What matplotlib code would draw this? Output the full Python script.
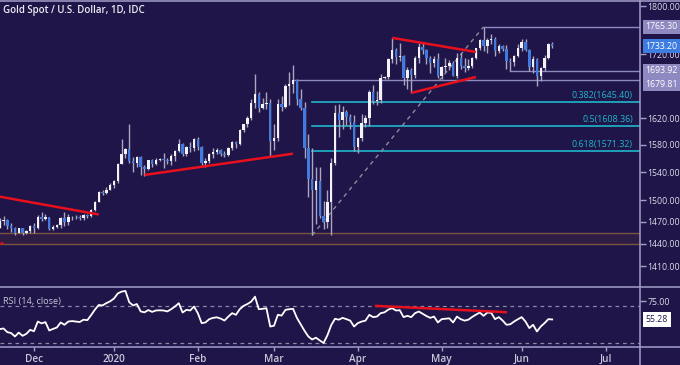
import matplotlib.pyplot as plt
import matplotlib.transforms as mtransforms
import numpy as np
import pandas as pd
from matplotlib import font_manager
from matplotlib.lines import Line2D
from matplotlib.ticker import FixedLocator, NullLocator

plt.rcParams['font.family'] = ['Open Sans', 'DejaVu Sans']

installed = {f.name for f in font_manager.fontManager.ttflist}
if 'Liberation Sans Narrow' in installed:
    AXIS_FONT, AXIS_SIZE, FIB_SIZE = ['Liberation Sans Narrow', 'DejaVu Sans'], 7.8, 8.2
else:
    AXIS_FONT, AXIS_SIZE, FIB_SIZE = ['Open Sans', 'DejaVu Sans'], 6.3, 6.4

BG = '#1f1548'
FRAME = '#a29fc8'
TXT = '#dcdcea'
UP = '#f2f2f7'
DOWN = '#3f7be0'
WICK = '#a9a7c2'
RED = '#e8101c'
CYAN = '#1fb8cc'
LEVEL = '#8e89c0'

# daily candles, 19 Nov 2019 - 11 Jun 2020 (no bars on 25 Dec / 1 Jan)
opens = [1462, 1471, 1472, 1464, 1462, 1455, 1461, 1454, 1457, 1464,
         1461, 1477, 1474, 1476, 1460, 1463, 1465, 1475, 1470, 1476,
         1477, 1476, 1475, 1479, 1478, 1486, 1498, 1511, 1510, 1515,
         1521, 1528, 1552, 1566, 1574, 1556, 1553, 1562, 1548, 1545,
         1557, 1552, 1558, 1559, 1558, 1556, 1563, 1571, 1582, 1567,
         1577, 1575, 1589, 1577, 1553, 1556, 1566, 1570, 1573, 1567,
         1565, 1576, 1584, 1581, 1602, 1611, 1620, 1643, 1658, 1635,
         1642, 1643, 1585, 1590, 1642, 1637, 1669, 1673, 1679.81, 1649,
         1635, 1576, 1530, 1514, 1527, 1478, 1470, 1498, 1553, 1628,
         1617, 1630, 1622, 1614, 1577, 1590, 1613, 1620, 1661, 1647,
         1648, 1683, 1684, 1712, 1727, 1716, 1718, 1683, 1695, 1687,
         1714, 1732, 1727, 1714, 1707, 1713, 1686, 1700, 1702, 1706,
         1686, 1715, 1702, 1698, 1702, 1715, 1730, 1743, 1733, 1744,
         1745, 1725, 1734, 1728, 1709, 1708, 1717, 1730, 1740, 1727,
         1700, 1713, 1685, 1698, 1715, 1737]
highs = [1475, 1478, 1474, 1468, 1463, 1462, 1462, 1459, 1466, 1468,
         1479, 1483, 1481, 1477, 1465, 1467, 1476, 1484, 1481, 1478,
         1479, 1479, 1480, 1481, 1487, 1499, 1513, 1514, 1519, 1524,
         1529, 1553, 1588, 1576, 1611, 1562, 1563, 1564, 1551, 1558,
         1559, 1561, 1560, 1568, 1560, 1566, 1573, 1588, 1583, 1578,
         1584, 1590, 1592, 1578, 1561, 1568, 1575, 1576, 1574, 1571,
         1577, 1585, 1585, 1604, 1612, 1624, 1650, 1689, 1660, 1651,
         1660, 1649, 1611, 1649, 1654, 1673, 1692, 1703, 1681, 1665,
         1645, 1596, 1575, 1547, 1547, 1499, 1515, 1560, 1641, 1642,
         1638, 1633, 1626, 1625, 1592, 1626, 1625, 1664, 1671, 1662,
         1689, 1686, 1715, 1747, 1731, 1738, 1719, 1700, 1698, 1717,
         1739, 1738, 1728, 1717, 1718, 1722, 1702, 1715, 1711, 1710,
         1722, 1722, 1715, 1712, 1716, 1731, 1745, 1765.3, 1746, 1754,
         1748, 1737, 1735, 1735, 1715, 1719, 1737, 1745, 1745, 1728,
         1718, 1714, 1700, 1719, 1739, 1741]
lows = [1461, 1466, 1460, 1456, 1452, 1454, 1452, 1453, 1455, 1454,
        1460, 1471, 1472, 1458, 1459, 1461, 1462, 1464, 1466, 1473,
        1474, 1473, 1473, 1475, 1477, 1485, 1498, 1507, 1509, 1514,
        1517, 1525, 1552, 1561, 1553, 1540, 1548, 1536, 1535, 1543,
        1548, 1550, 1556, 1546, 1552, 1551, 1556, 1569, 1563, 1564,
        1570, 1571, 1573, 1550, 1547, 1554, 1561, 1566, 1563, 1562,
        1564, 1572, 1576, 1580, 1599, 1606, 1618, 1636, 1630, 1634,
        1634, 1563, 1572, 1585, 1631, 1636, 1641, 1659, 1640, 1633,
        1561, 1504, 1451.4, 1467, 1475, 1460, 1462, 1452, 1550, 1591,
        1603, 1610, 1603, 1571, 1568, 1586, 1606, 1608, 1642, 1640,
        1644, 1680, 1681, 1706, 1705, 1709, 1672, 1665, 1659, 1682,
        1707, 1721, 1705, 1690, 1700, 1683, 1681, 1692, 1695, 1685,
        1683, 1697, 1692, 1695, 1698, 1712, 1727, 1726, 1723, 1737,
        1718, 1722, 1725, 1697, 1693.92, 1702, 1716, 1725, 1726, 1693,
        1691, 1670, 1677, 1694, 1712, 1730]
closes = [1471, 1472, 1464, 1462, 1455, 1461, 1454, 1457, 1464, 1461,
          1477, 1474, 1476, 1460, 1463, 1465, 1475, 1470, 1476, 1477,
          1476, 1475, 1479, 1478, 1486, 1498, 1511, 1510, 1515, 1521,
          1528, 1552, 1566, 1574, 1556, 1553, 1562, 1548, 1545, 1557,
          1552, 1558, 1559, 1558, 1556, 1563, 1571, 1582, 1567, 1577,
          1575, 1589, 1577, 1553, 1556, 1566, 1570, 1573, 1567, 1565,
          1576, 1584, 1581, 1602, 1611, 1620, 1643, 1658, 1635, 1642,
          1643, 1585, 1590, 1642, 1637, 1669, 1673, 1679.81, 1649, 1635,
          1576, 1530, 1514, 1527, 1478, 1470, 1498, 1553, 1628, 1617,
          1630, 1622, 1614, 1577, 1590, 1613, 1620, 1661, 1647, 1648,
          1683, 1684, 1712, 1727, 1716, 1718, 1683, 1695, 1687, 1714,
          1732, 1727, 1714, 1707, 1713, 1686, 1700, 1702, 1706, 1686,
          1715, 1702, 1698, 1702, 1715, 1730, 1743, 1733, 1744, 1745,
          1725, 1734, 1728, 1709, 1708, 1717, 1730, 1740, 1727, 1700,
          1713, 1685, 1698, 1715, 1737, 1733.2]
rsi = [44.8, 45.5, 41.5, 40.5, 36.8, 41, 37.5, 39.7, 44, 42.5,
       53, 51, 52.4, 43.3, 45, 46.5, 52, 49.5, 53, 53.5,
       53, 52.5, 55, 54.5, 60, 66, 71, 70.5, 73, 75,
       78, 83.5, 85.5, 86.2, 74, 70.5, 72, 64, 63, 65.5,
       63.5, 65, 65.2, 65, 64, 66.4, 69.3, 72.9, 62.8, 65.7,
       65, 69.3, 62.1, 51.3, 52, 55.6, 57, 57.6, 56.2, 54.1,
       58.4, 62.1, 60.3, 66.4, 70, 72, 74.6, 80, 66.4, 66.8,
       67.5, 47.6, 48.5, 60.3, 59.5, 65.7, 66.4, 66.8, 57, 50,
       43, 36.8, 33.5, 35.5, 32.5, 29.7, 38, 49, 56, 55,
       57, 55.6, 54, 47.6, 51.3, 53, 54, 60.3, 57.8, 58.4,
       62.1, 63, 66, 67.5, 65, 65.3, 57.8, 59.2, 57.8, 62.1,
       63.9, 61.4, 59, 57, 58.4, 52, 55.6, 56, 56.5, 52,
       58.4, 55.6, 54, 55, 58, 60.5, 62.8, 59.2, 62.8, 62.5,
       55.6, 57.8, 54.1, 49.5, 50, 53, 55.5, 57.8, 53, 45.9,
       49.5, 42.2, 47.6, 51.3, 55.6, 55.28]

month_labels = ['Dec', '2020', 'Feb', 'Mar', 'Apr', 'May', 'Jun', 'Jul']
price_ticks = [1800, 1720, 1620, 1580, 1540, 1500, 1470, 1440, 1410]
rsi_ticks = [75]

# drawings: (bar index, price)
trend_lines = [[(0, 1505), (26, 1480)],
               [(38, 1536), (77, 1567)],
               [(103, 1747), (125, 1724)],
               [(108, 1659), (125, 1684)],
               [(0, 1441.5), (0.8, 1441.5)]]
levels = [(127, 1765.30), (134, 1693.92), (77, 1679.81)]
fib_low, fib_high = (82, 1451.42), (127, 1765.30)
fib_ratios = [0.382, 0.5, 0.618]
zone = (1439.1, 1454.0)
rsi_trend = [(98.8, 70), (132.8, 63.2)]

opens, highs, lows, closes = map(np.array, (opens, highs, lows, closes))
x = np.arange(len(closes))

all_days = pd.bdate_range('2019-11-19', '2020-07-01')
all_days = all_days.drop([pd.Timestamp('2019-12-25'), pd.Timestamp('2020-01-01')])
month_pos = [i for i in range(1, len(all_days)) if all_days[i].month != all_days[i - 1].month]

W, H = 680, 365
fig = plt.figure(figsize=(W / 100, H / 100), dpi=100, facecolor=BG)
ax = fig.add_axes([0, 1 - 286 / H, 640 / W, 286 / H], facecolor=BG)
ax2 = fig.add_axes([0, 1 - 346.7 / H, 640 / W, 59.7 / H], facecolor=BG, sharex=ax)

# candles
ax.vlines(x, lows, highs, color=WICK, lw=1, zorder=3)
up = closes >= opens
body_lo = np.minimum(opens, closes)
body_h = np.maximum(np.abs(closes - opens), 1.2)
ax.bar(x[up], body_h[up], bottom=body_lo[up], width=0.64, color=UP, lw=0, zorder=4)
ax.bar(x[~up], body_h[~up], bottom=body_lo[~up], width=0.64, color=DOWN, lw=0, zorder=4)

ax.set_yscale('log')
ax.set_ylim(1383.9, 1810.2)
ax.set_xlim(0.079, 168.05)

# support zone
ax.axhspan(zone[0], zone[1], color='#2d1c44', lw=0, zorder=1)
for z in zone:
    ax.axhline(z, color='#7a5440', lw=1, zorder=1.5)

# horizontal levels
for start, p in levels:
    ax.plot([start, 168.05], [p, p], color=LEVEL, lw=1, zorder=2)

# fibonacci retracement
rng = fib_high[1] - fib_low[1]
for r in fib_ratios:
    p = fib_high[1] - r * rng
    ax.plot([fib_low[0], 168.05], [p, p], color=CYAN, lw=1.2, zorder=2)
    ax.annotate(f'{r:g}({p:.2f})', xy=(166.2, p), xytext=(0, 1.5), textcoords='offset points',
                ha='right', va='bottom', color=CYAN, fontsize=FIB_SIZE, family=AXIS_FONT, zorder=6)
ax.plot([fib_low[0], fib_high[0]], [fib_low[1], fib_high[1]], color='#8d8a9e',
        lw=1, ls=(0, (3, 3)), zorder=2)

for seg in trend_lines:
    (x0, y0), (x1, y1) = seg
    ax.plot([x0, x1], [y0, y1], color=RED, lw=1.8, zorder=5, solid_capstyle='butt')

ax.text(0.005, 0.962, 'Gold Spot / U.S. Dollar, 1D, IDC', transform=ax.transAxes,
        color='#ececf4', fontsize=7, fontweight='semibold', va='center', ha='left')

# price axis
ax.yaxis.tick_right()
ax.yaxis.set_major_locator(FixedLocator(price_ticks))
ax.yaxis.set_minor_locator(NullLocator())
ax.set_yticklabels([f'{t:.2f}' for t in price_ticks], family=AXIS_FONT)
ax.tick_params(axis='y', length=4, width=1, color=FRAME, labelcolor=TXT, labelsize=AXIS_SIZE, pad=1.5)
ax.tick_params(axis='x', bottom=False, labelbottom=False)

trans = mtransforms.blended_transform_factory(ax.transAxes, ax.transData)
box_labels = [(1765.30, 0, LEVEL, 'white'), (1733.20, 0, '#3d7de2', 'white'),
              (1693.92, 0, LEVEL, 'white'), (1679.81, -3.4, LEVEL, 'white')]
for p, dy, fc, tc in box_labels:
    ax.annotate(f'{p:.2f}', xy=(1.0, p), xycoords=trans, xytext=(4, dy), textcoords='offset points',
                ha='left', va='center', color=tc, fontsize=AXIS_SIZE, family=AXIS_FONT,
                annotation_clip=False, zorder=10,
                bbox=dict(boxstyle='square,pad=0.3', fc=fc, ec='none'))

# RSI panel
ax2.plot(x, rsi, color='white', lw=1.3, zorder=3)
for lvl in (70, 30):
    ax2.axhline(lvl, color='#8b88a8', lw=0.9, ls=(0, (3, 3)), zorder=1)
ax2.plot([rsi_trend[0][0], rsi_trend[1][0]], [rsi_trend[0][1], rsi_trend[1][1]],
         color=RED, lw=1.8, zorder=4)
ax2.set_ylim(25.7, 90.5)
ax2.yaxis.tick_right()
ax2.set_yticks(rsi_ticks)
ax2.set_yticklabels([f'{t:.2f}' for t in rsi_ticks], family=AXIS_FONT)
ax2.tick_params(axis='y', length=4, width=1, color=FRAME, labelcolor=TXT, labelsize=AXIS_SIZE, pad=1.5)
ax2.text(0.005, 0.75, 'RSI (14, close)', transform=ax2.transAxes, color='#c9c8da',
         fontsize=6.6, va='center', ha='left')
trans2 = mtransforms.blended_transform_factory(ax2.transAxes, ax2.transData)
ax2.annotate(f'{rsi[-1]:.2f}', xy=(1.0, rsi[-1]), xycoords=trans2, xytext=(4, 0),
             textcoords='offset points', ha='left', va='center', color='#1f1548',
             fontsize=AXIS_SIZE, family=AXIS_FONT, annotation_clip=False, zorder=10,
             bbox=dict(boxstyle='square,pad=0.3', fc='white', ec='none'))

ax2.set_xticks(month_pos)
ax2.set_xticklabels(month_labels)
ax2.tick_params(axis='x', length=3, width=1, color=FRAME, labelcolor='#c9c8da', labelsize=7.2, pad=2)
for lab in ax2.get_xticklabels():
    lab.set_fontweight('semibold')

for a in (ax, ax2):
    for s in a.spines.values():
        s.set_visible(False)

# frame lines
def fline(xs, ys):
    fig.add_artist(Line2D([v / W for v in xs], [1 - v / H for v in ys], color=FRAME, lw=1.1))

fline([0, W], [0.5, 0.5])
fline([0, W], [286.5, 286.5])
fline([0, W], [346.7, 346.7])
fline([640, 640], [0, H])

fig.savefig('out.png', dpi=100, facecolor=BG)
